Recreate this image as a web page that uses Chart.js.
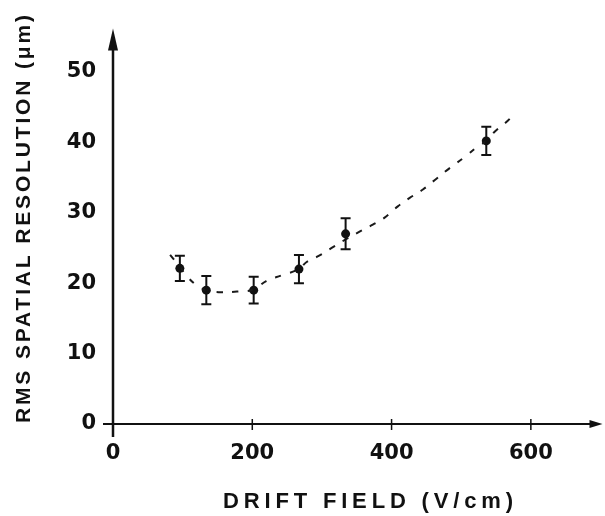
<!DOCTYPE html>
<html><head><meta charset="utf-8">
<script src="https://cdn.jsdelivr.net/npm/chart.js@4"></script>
<style>html,body{margin:0;padding:0;background:#fff}canvas{display:block}</style>
</head><body>
<canvas id="c" width="605" height="516"></canvas>
<script>
// ---- data ----
const xTickValues = [0, 200, 400, 600];
const yTickValues = [0, 10, 20, 30, 40, 50];
const fieldValues = [96, 134, 202, 267, 334, 536];
const resolutionValues = [22.1, 19.0, 19.0, 22.0, 27.0, 40.2];
const resolutionErrors = [1.8, 2.0, 1.9, 2.0, 2.2, 2.0];
const fitField = [82, 96, 106, 120, 134, 156, 178, 202, 220, 242, 267, 278, 296, 314, 334, 354, 373, 390, 409, 426, 445, 464, 483, 505, 521, 536, 548, 564, 578];
const fitResolution = [24.0, 22.3, 21.0, 19.7, 19.0, 18.7, 18.8, 19.1, 20.3, 21.1, 22.0, 23.0, 23.9, 25.0, 26.2, 27.3, 28.3, 29.3, 30.9, 32.1, 33.3, 34.8, 36.3, 37.9, 39.2, 40.2, 41.5, 42.8, 44.2];
const xTitle = 'DRIFT FIELD (V/cm)';
const yTitle = 'RMS SPATIAL RESOLUTION (μm)';

const INK = '#111';

function spacedText(ctx, text, cx, cy, target, font) {
  ctx.save();
  ctx.font = font;
  ctx.letterSpacing = '0px';
  const w = ctx.measureText(text).width;
  const ls = (target - w) / (text.length - 1);
  ctx.letterSpacing = ls + 'px';
  ctx.textAlign = 'left';
  ctx.textBaseline = 'middle';
  ctx.fillStyle = INK;
  ctx.fillText(text, cx - target / 2, cy);
  ctx.restore();
}

const axesPlugin = {
  id: 'axesPlugin',
  afterDatasetsDraw(chart) {
    const ctx = chart.ctx;
    const xs = chart.scales.x, ys = chart.scales.y;
    const x0 = xs.getPixelForValue(0), y0 = ys.getPixelForValue(0);
    const yTop = ys.getPixelForValue(ys.max);
    const xRight = xs.getPixelForValue(xs.max) + 2;
    ctx.save();
    ctx.strokeStyle = INK; ctx.fillStyle = INK;
    // y axis
    ctx.lineWidth = 2.5;
    ctx.beginPath(); ctx.moveTo(x0, yTop + 12); ctx.lineTo(x0, y0 + 13); ctx.stroke();
    ctx.beginPath(); ctx.moveTo(x0, yTop - 1); ctx.lineTo(x0 - 5, yTop + 21); ctx.lineTo(x0 + 5, yTop + 21); ctx.closePath(); ctx.fill();
    // x axis
    ctx.lineWidth = 2;
    ctx.beginPath(); ctx.moveTo(x0 - 10, y0); ctx.lineTo(xRight - 8, y0); ctx.stroke();
    ctx.beginPath(); ctx.moveTo(xRight, y0); ctx.lineTo(xRight - 13, y0 - 4); ctx.lineTo(xRight - 13, y0 + 4); ctx.closePath(); ctx.fill();
    // x tick marks
    ctx.lineWidth = 1.5;
    xTickValues.forEach(v => {
      if (v === 0) return;
      const px = xs.getPixelForValue(v);
      ctx.beginPath(); ctx.moveTo(px, y0 - 5); ctx.lineTo(px, y0 + 6); ctx.stroke();
    });
    // error bars
    ctx.lineWidth = 2;
    fieldValues.forEach((f, i) => {
      const px = xs.getPixelForValue(f);
      const top = ys.getPixelForValue(resolutionValues[i] + resolutionErrors[i]);
      const bot = ys.getPixelForValue(resolutionValues[i] - resolutionErrors[i]);
      ctx.beginPath();
      ctx.moveTo(px, top); ctx.lineTo(px, bot);
      ctx.moveTo(px - 5, top); ctx.lineTo(px + 5, top);
      ctx.moveTo(px - 5, bot); ctx.lineTo(px + 5, bot);
      ctx.stroke();
    });
    ctx.restore();
    // titles
    spacedText(ctx, xTitle, 368, 502, 290, 'bold 22px "Liberation Sans", Arial, sans-serif');
    ctx.save();
    ctx.translate(24, 219);
    ctx.rotate(-Math.PI / 2);
    spacedText(ctx, yTitle, 0, 0, 408, 'bold 21px "Liberation Sans", Arial, sans-serif');
    ctx.restore();
  }
};

new Chart(document.getElementById('c'), {
  type: 'scatter',
  data: {
    datasets: [
      {
        label: 'fit',
        data: fitField.map((x, i) => ({ x, y: fitResolution[i] })),
        showLine: true,
        borderColor: '#1a1a1a',
        borderWidth: 2,
        borderDash: [6, 9.5],
        tension: 0.4,
        pointRadius: 0,
        fill: false
      },
      {
        label: 'measured',
        data: fieldValues.map((x, i) => ({ x, y: resolutionValues[i] })),
        showLine: false,
        pointRadius: 4.5,
        pointBackgroundColor: INK,
        pointBorderWidth: 0
      }
    ]
  },
  options: {
    responsive: false,
    animation: false,
    devicePixelRatio: 1,
    layout: { padding: { top: 8, right: 4, bottom: 0, left: 0 } },
    plugins: { legend: { display: false }, tooltip: { enabled: false } },
    scales: {
      x: {
        type: 'linear', min: 0, max: 700,
        afterBuildTicks: s => { s.ticks = xTickValues.map(v => ({ value: v })); },
        afterFit: s => { s.height = 92; },
        grid: { display: false, drawTicks: false },
        border: { display: false },
        ticks: { padding: 17, color: INK, font: { family: '"DejaVu Sans"', size: 21, weight: 'bold' }, maxRotation: 0 }
      },
      y: {
        type: 'linear', min: 0, max: 56,
        afterBuildTicks: s => { s.ticks = yTickValues.map(v => ({ value: v })); },
        afterFit: s => { s.width = 113; },
        grid: { display: false, drawTicks: false },
        border: { display: false },
        ticks: { padding: 17, color: INK, font: { family: '"DejaVu Sans"', size: 21, weight: 'bold' } }
      }
    }
  },
  plugins: [axesPlugin]
});
</script>
</body></html>
